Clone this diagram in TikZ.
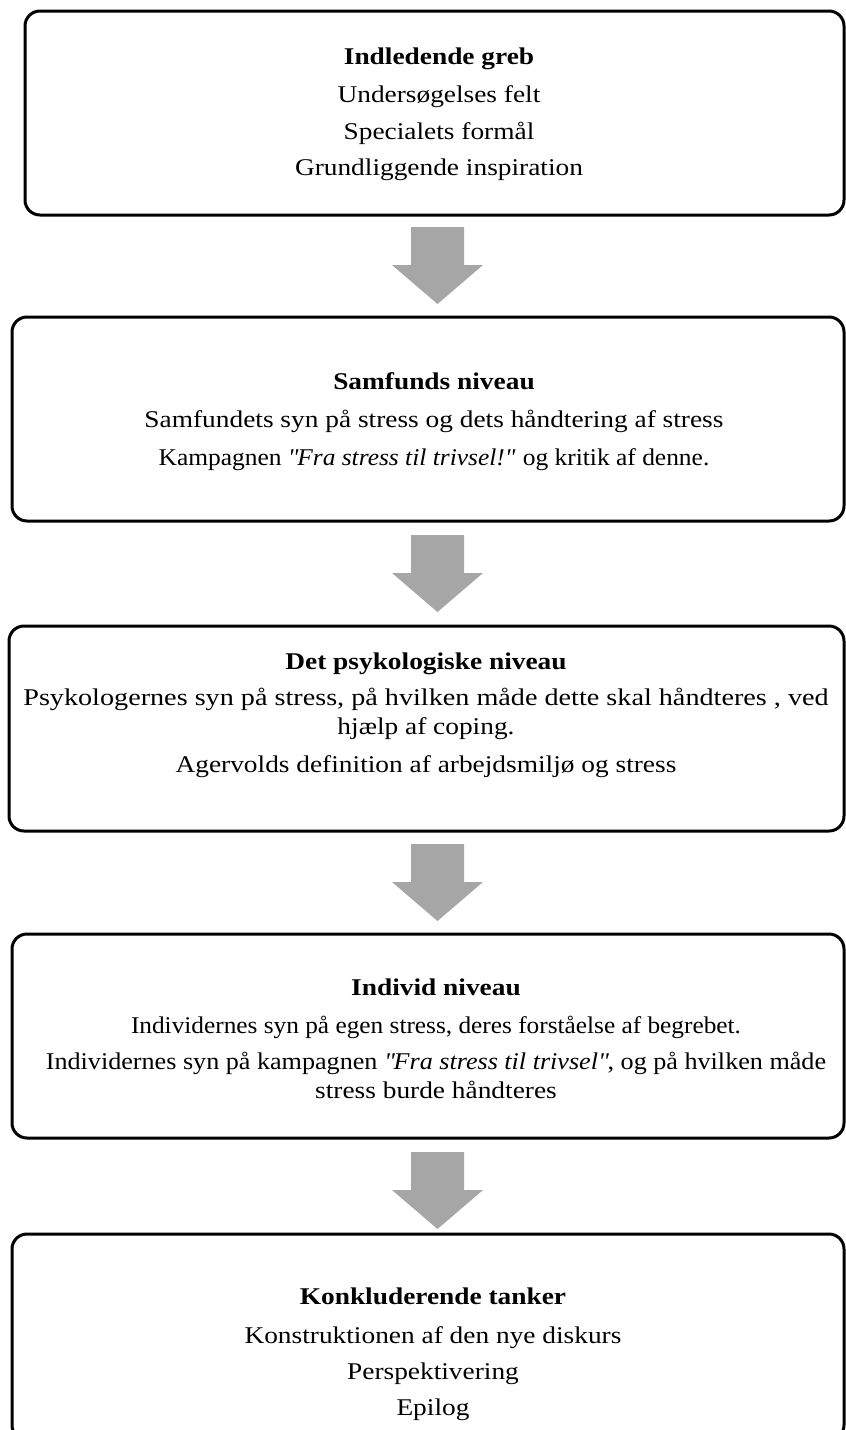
\documentclass[tikz,border=0pt]{standalone}
\usepackage{fontspec}
\setmainfont{Liberation Serif}[FakeStretch=1.14]
\definecolor{arrowgray}{RGB}{166,166,166}
\newcommand{\sq}{\textquotedbl}
\tikzset{
  box/.style={draw=black, line width=3pt, rounded corners=15pt, fill=white},
  boxtext/.style={align=center, font=\fontsize{24}{29}\selectfont, inner sep=0pt, anchor=base},
  blockarrow/.pic={\fill[arrowgray] (-26.5,0) -- (26.5,0) -- (26.5,38) -- (45.5,38) -- (0,77) -- (-45.5,38) -- (-26.5,38) -- cycle;}
}
\begin{document}
\begin{tikzpicture}[x=1pt,y=-1pt]
\useasboundingbox (0,0) rectangle (846,1430);
% boxes
\draw[box] (25,11) rectangle (844,215);
\node[inner sep=0pt] (b1) at (434.5,113) {};
\draw[box] (12,317) rectangle (844,521);
\node[inner sep=0pt] (b2) at (428,419) {};
\draw[box] (9,626) rectangle (844,831);
\node[inner sep=0pt] (b3) at (426.5,728.5) {};
\draw[box] (12,934) rectangle (844,1138);
\node[inner sep=0pt] (b4) at (428,1036) {};
\draw[box] (12,1234) rectangle (844,1440);
\node[inner sep=0pt] (b5) at (428,1337) {};
% texts (anchor=base is the baseline of the last line)
\node[boxtext] (t1) at (439,175) {\textbf{Indledende greb}\\[9pt]
Undersøgelses felt\\[8pt]
Specialets formål\\[7pt]
Grundliggende inspiration};
\node[boxtext] (t2) at (434,465) {\textbf{Samfunds niveau}\\[9pt]
Samfundets syn på stress og dets håndtering af stress\\[9pt]
\scalebox{0.93}[1]{Kampagnen \textit{\sq Fra stress til trivsel!\sq} og kritik af denne.}};
\node[boxtext] (t3) at (426,772) {\textbf{Det psykologiske niveau}\\[7pt]
\scalebox{1.03}[1]{Psykologernes syn på stress, på hvilken måde dette skal håndteres , ved}\\
hjælp af coping.\\[9pt]
Agervolds definition af arbejdsmiljø og stress};
\node[boxtext] (t4) at (436,1098) {\textbf{Individ niveau}\\[9pt]
\scalebox{0.925}[1]{Individernes syn på egen stress, deres forståelse af begrebet.}\\[7pt]
\scalebox{0.955}[1]{Individernes syn på kampagnen \textit{\sq Fra stress til trivsel\sq}, og på hvilken måde}\\
stress burde håndteres};
\node[boxtext] (t5) at (433,1415) {\textbf{Konkluderende tanker}\\[10pt]
Konstruktionen af den nye diskurs\\[7pt]
Perspektivering\\[7pt]
Epilog};
% arrows
\pic at (437.5,227) {blockarrow};
\pic at (437.5,535) {blockarrow};
\pic at (437.5,844) {blockarrow};
\pic at (437.5,1152) {blockarrow};
\end{tikzpicture}
\end{document}
